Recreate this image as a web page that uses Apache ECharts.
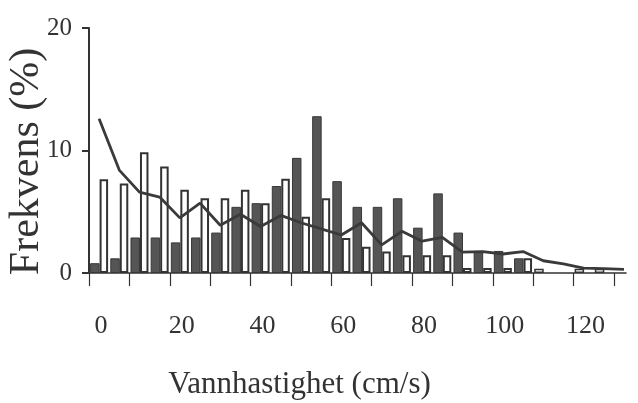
<!DOCTYPE html>
<html>
<head>
<meta charset="utf-8">
<script src="https://cdn.jsdelivr.net/npm/echarts@6/dist/echarts.min.js"></script>
<style>
  html, body { margin: 0; padding: 0; background: #fff; }
  #chart { width: 638px; height: 403px; }
</style>
</head>
<body>
<div id="chart"></div>
<script>
// Velocity bins of 5 cm/s; each value is the bin start.
const binStarts = [0, 5, 10, 15, 20, 25, 30, 35, 40, 45, 50, 55, 60, 65, 70, 75, 80, 85, 90, 95, 100, 105, 110, 115, 120, 125, 130];

// Filled (dark) bars, frequency in %.
const darkFreq = [0.8, 1.2, 2.9, 2.9, 2.5, 2.9, 3.3, 5.4, 5.7, 7.1, 9.4, 12.8, 7.5, 5.4, 5.4, 6.1, 3.7, 6.5, 3.3, 1.8, 1.8, 1.2, null, null, null, null, null];

// Open (white) bars, frequency in %.
const openFreq = [7.65, 7.3, 9.85, 8.7, 6.8, 6.1, 6.1, 6.8, 5.7, 7.7, 4.6, 6.1, 2.85, 2.15, 1.75, 1.45, 1.45, 1.45, 0.4, 0.4, 0.4, 1.2, null, null, null, null, null];

// Open bars in the high-velocity tail (drawn in the left slot of each bin).
const openTail = [null, null, null, null, null, null, null, null, null, null, null, null, null, null, null, null, null, null, null, null, null, null, 0.35, null, 0.35, 0.35, null];

// Curve through the bin centres, frequency in %.
const curveFreq = [12.6, 8.4, 6.6, 6.2, 4.5, 5.7, 3.9, 4.8, 3.8, 4.7, 4.1, 3.6, 3.1, 4.1, 2.3, 3.4, 2.6, 2.9, 1.7, 1.75, 1.55, 1.75, 1.0, 0.75, 0.4, 0.35, 0.3];

// Axis tick labels.
const xTickLabels = [0, 20, 40, 60, 80, 100, 120];
const yTickLabels = [0, 10, 20];

const binWidth = 5;
const pairs = (vals) => vals.map((v, i) => [binStarts[i] + binWidth / 2, v]);

const ink = '#333';
const serif = '"Liberation Serif", "Times New Roman", serif';

const chart = echarts.init(document.getElementById('chart'), null, { renderer: 'canvas' });

chart.setOption({
  backgroundColor: '#fff',
  animation: false,
  grid: { left: 89, right: 12, top: 28, bottom: 130, containLabel: false, outerBoundsMode: 'none' },
  xAxis: {
    type: 'value',
    min: 0,
    max: 133,
    interval: 10,
    name: 'Vannhastighet (cm/s)',
    nameLocation: 'middle',
    nameGap: 96,
    nameMoveOverlap: false,
    nameTextStyle: {
      fontFamily: serif, fontSize: 31, color: ink,
      padding: [0, 116, 0, 0]
    },
    axisLine: { show: true, lineStyle: { color: ink, width: 1.6 } },
    axisTick: { show: true, inside: false, length: 13, lineStyle: { color: ink, width: 1.2 } },
    axisLabel: {
      show: true,
      margin: 40,
      fontFamily: serif, fontSize: 26, color: ink,
      padding: [0, 0, 0, 24],
      showMaxLabel: false,
      formatter: (v) => (xTickLabels.indexOf(v) >= 0 ? String(v) : '')
    },
    splitLine: { show: false }
  },
  yAxis: {
    type: 'value',
    min: 0,
    max: 20,
    interval: 10,
    name: 'Frekvens (%)',
    nameLocation: 'middle',
    nameGap: 41,
    nameMoveOverlap: false,
    nameRotate: 90,
    nameTextStyle: {
      fontFamily: serif, fontSize: 42, color: ink,
      padding: [0, 22, 0, 0]
    },
    axisLine: { show: true, lineStyle: { color: ink, width: 2 } },
    axisTick: { show: true, inside: false, length: 7, lineStyle: { color: ink, width: 2 } },
    axisLabel: {
      margin: 17,
      fontFamily: serif, fontSize: 25, color: ink,
      formatter: (v) => (yTickLabels.indexOf(v) >= 0 ? String(v) : '')
    },
    splitLine: { show: false }
  },
  series: [
    {
      name: 'dark',
      type: 'bar',
      stack: 'left',
      data: pairs(darkFreq),
      barWidth: 9.5,
      barGap: '0%',
      itemStyle: { color: '#555', borderColor: '#383838', borderWidth: 1 }
    },
    {
      name: 'open',
      type: 'bar',
      data: pairs(openFreq),
      barWidth: 8.5,
      barGap: '0%',
      itemStyle: { color: '#fff', borderColor: '#333', borderWidth: 2 }
    },
    {
      name: 'openTail',
      type: 'bar',
      stack: 'left',
      data: pairs(openTail),
      barWidth: 9.5,
      itemStyle: { color: '#fff', borderColor: '#333', borderWidth: 1.5 }
    },
    {
      name: 'curve',
      type: 'line',
      data: pairs(curveFreq),
      showSymbol: false,
      symbol: 'none',
      z: 5,
      lineStyle: { color: '#3a3a3a', width: 2.8 }
    }
  ]
});
</script>
</body>
</html>
